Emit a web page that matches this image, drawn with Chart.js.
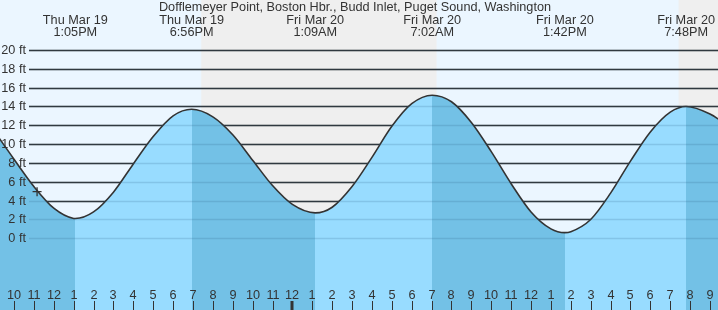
<!DOCTYPE html>
<html>
<head>
<meta charset="utf-8">
<script src="https://cdn.jsdelivr.net/npm/chart.js@4"></script>
<style>
  body { margin: 0; background: #fff; }
  canvas { display: block; }
</style>
</head>
<body>
<canvas id="TideChart" width="718" height="310"></canvas>
<script>
// hours counted from Thu Mar 19 00:00
var stationName = "Dofflemeyer Point, Boston Hbr., Budd Inlet, Puget Sound, Washington";

var tideTimes = [9, 10, 11, 12, 13, 13.083, 14, 15, 16, 17, 18, 18.933, 20, 21, 22, 23, 24, 25.15,
  26, 27, 28, 29, 30, 31.033, 32, 33, 34, 35, 36, 37, 37.7, 38, 39, 40, 41, 42, 43, 43.8, 45, 46];
var tideHeights = [11.4, 8.4, 5.5, 3.2, 2.11, 2.1, 2.8, 4.9, 7.9, 10.8, 13.0, 13.7, 12.9, 11.0, 8.3, 5.6, 3.6, 2.7,
  3.3, 5.5, 8.6, 11.9, 14.3, 15.2, 14.5, 12.3, 9.2, 5.8, 2.8, 1.0, 0.6, 0.7, 2.0, 4.8, 8.2, 11.3, 13.4, 14.0, 13.2, 11.8];

var extremeTimes = [13.083, 18.933, 25.15, 31.033, 37.7, 43.8];
var extremeHeights = [2.1, 13.7, 2.7, 15.2, 0.6, 14.0];
var extremeDays = ["Thu Mar 19", "Thu Mar 19", "Fri Mar 20", "Fri Mar 20", "Fri Mar 20", "Fri Mar 20"];
var extremeClock = ["1:05PM", "6:56PM", "1:09AM", "7:02AM", "1:42PM", "7:48PM"];

var nowTime = [11.16];
var nowHeight = [4.95];

var nightStart = [19.417, 43.42];
var nightEnd = [31.25, 55];

var feetTicks = [0, 2, 4, 6, 8, 10, 12, 14, 16, 18, 20];
var hourTicks = [10, 11, 12, 13, 14, 15, 16, 17, 18, 19, 20, 21, 22, 23, 24, 25, 26, 27, 28, 29, 30,
  31, 32, 33, 34, 35, 36, 37, 38, 39, 40, 41, 42, 43, 44, 45];

var dayColor = "#ebf6ff";
var nightColor = "#efefef";
var fallColor = "#73c1e6";
var riseColor = "#98dcff";
var inkColor = "#333333";
var fontName = "'Liberation Sans', Arial, sans-serif";

function hourLabel(h) {
  var v = h % 12;
  return String(v == 0 ? 12 : v);
}

// darker water while the tide falls, lighter while it rises
function waterFill(context) {
  var chart = context.chart;
  var area = chart.chartArea;
  if (!area) return riseColor;
  var xs = chart.scales.x;
  var g = chart.ctx.createLinearGradient(area.left, 0, area.right, 0);
  var w = area.right - area.left;
  var prev = 0;
  var n = extremeTimes.length;
  for (var i = 0; i <= n; i++) {
    var col;
    if (i < n) col = extremeHeights[i] < extremeHeights[i + 1 < n ? i + 1 : i - 1] ? fallColor : riseColor;
    else col = extremeHeights[n - 1] > extremeHeights[n - 2] ? fallColor : riseColor;
    var end = i < n ? (xs.getPixelForValue(extremeTimes[i]) - area.left) / w : 1;
    end = Math.min(1, Math.max(0, end));
    g.addColorStop(prev, col);
    g.addColorStop(end, col);
    prev = end;
  }
  return g;
}

function drawGrid(chart, style) {
  var c = chart.ctx, area = chart.chartArea, ys = chart.scales.y;
  c.strokeStyle = style;
  c.lineWidth = 1.5;
  feetTicks.forEach(function (f) {
    var y = Math.round(ys.getPixelForValue(f)) + 0.5;
    c.beginPath();
    c.moveTo(29, y);
    c.lineTo(area.right, y);
    c.stroke();
  });
}

var tidePlugin = {
  id: "tideDecor",
  beforeDraw: function (chart) {
    var c = chart.ctx, area = chart.chartArea, xs = chart.scales.x;
    c.save();
    c.fillStyle = dayColor;
    c.fillRect(0, 0, chart.width, chart.height);
    c.fillStyle = nightColor;
    for (var i = 0; i < nightStart.length; i++) {
      var a = xs.getPixelForValue(nightStart[i]);
      var b = xs.getPixelForValue(nightEnd[i]);
      c.fillRect(a, area.top, b - a, area.bottom - area.top);
    }
    c.restore();
  },
  beforeDatasetsDraw: function (chart) {
    chart.ctx.save();
    drawGrid(chart, inkColor);
    chart.ctx.restore();
  },
  afterDatasetsDraw: function (chart) {
    var c = chart.ctx, area = chart.chartArea, xs = chart.scales.x, ys = chart.scales.y;
    c.save();
    drawGrid(chart, "rgba(40,90,130,0.18)");

    c.fillStyle = inkColor;
    c.font = "12.7px " + fontName;
    c.textBaseline = "middle";
    c.textAlign = "right";
    feetTicks.forEach(function (f) {
      c.fillText(f + " ft", 26, ys.getPixelForValue(f) + 0.5);
    });

    // hour ticks, midnight drawn heavier
    c.textAlign = "center";
    c.strokeStyle = inkColor;
    hourTicks.forEach(function (h) {
      var x = Math.round(xs.getPixelForValue(h));
      var mid = h % 24 == 0;
      c.lineWidth = mid ? 3 : 1;
      c.beginPath();
      c.moveTo(mid ? x : x + 0.5, 301);
      c.lineTo(mid ? x : x + 0.5, area.bottom);
      c.stroke();
      c.fillText(hourLabel(h), x, 295.5);
    });

    // high / low labels
    extremeTimes.forEach(function (t, i) {
      var x = xs.getPixelForValue(t);
      c.fillText(extremeDays[i], x, 20);
      c.fillText(extremeClock[i], x, 32.5);
    });

    c.fillText(stationName, 355, 7.5);
    c.restore();
  }
};

new Chart(document.getElementById("TideChart"), {
  type: "line",
  data: {
    datasets: [{
      data: tideTimes.map(function (t, i) { return { x: t, y: tideHeights[i] }; }),
      order: 1,
      borderColor: inkColor,
      borderWidth: 1.6,
      pointRadius: 0,
      cubicInterpolationMode: "monotone",
      fill: "start",
      backgroundColor: waterFill
    }, {
      data: nowTime.map(function (t, i) { return { x: t, y: nowHeight[i] }; }),
      order: 0,
      showLine: false,
      pointStyle: "cross",
      pointRadius: 4.5,
      borderColor: inkColor,
      borderWidth: 1.3,
      fill: false
    }]
  },
  options: {
    responsive: false,
    animation: false,
    devicePixelRatio: 1,
    layout: { padding: 0, autoPadding: false },
    plugins: { legend: { display: false }, tooltip: { enabled: false } },
    scales: {
      x: { type: "linear", display: false, min: 9.296, max: 45.402 },
      y: { display: false, min: -7.616, max: 25.31 }
    }
  },
  plugins: [tidePlugin]
});
</script>
</body>
</html>
